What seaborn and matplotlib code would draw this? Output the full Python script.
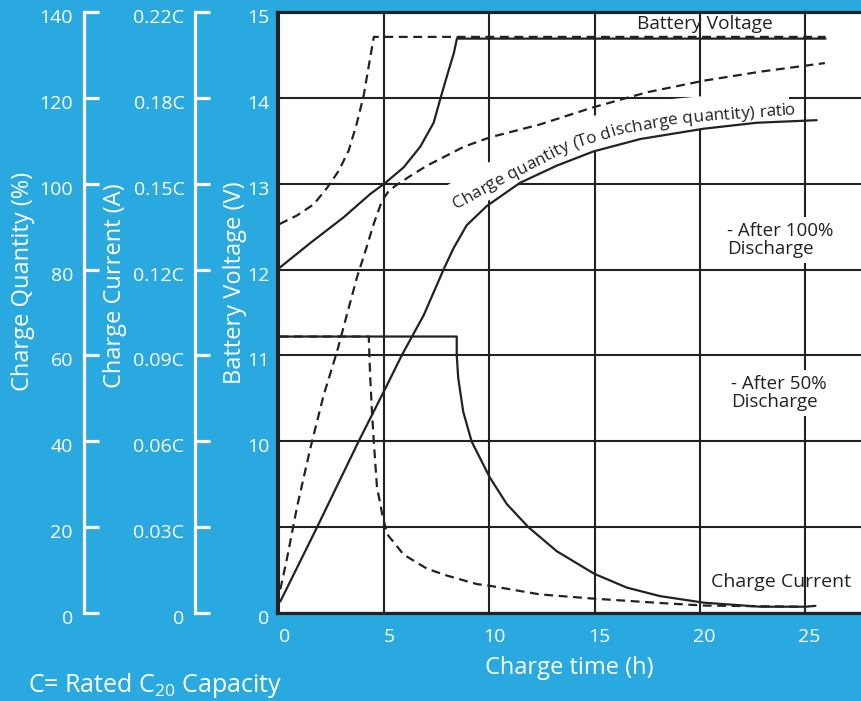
import numpy as np
import pandas as pd
import seaborn as sns
import matplotlib
matplotlib.use("Agg")
import matplotlib.pyplot as plt
from matplotlib.font_manager import FontProperties
from matplotlib.transforms import ScaledTranslation

BLUE = "#29a9e0"
INK = "#222222"
W, H = 862, 701

# axis ticks / labels
time_ticks = [0, 5, 10, 15, 20, 25]
level_ticks = [0, 20, 40, 60, 80, 100, 120, 140]
quantity_labels = ["0", "20", "40", "60", "80", "100", "120", "140"]
current_labels = ["0", "0.03C", "0.06C", "0.09C", "0.12C", "0.15C", "0.18C", "0.22C"]
voltage_labels = ["0", "", "10", "11", "12", "13", "14", "15"]

# battery voltage (V)
volt_t_100 = [0.0, 1.47, 3.06, 4.32, 5.04, 5.91, 6.70, 7.34, 7.66, 7.98, 8.30, 8.45, 26.0]
volt_100 = [12.02, 12.31, 12.61, 12.88, 13.01, 13.19, 13.43, 13.71, 13.99, 14.26, 14.52, 14.69, 14.69]
volt_t_50 = [0.0, 0.83, 1.63, 2.26, 2.82, 3.30, 3.69, 4.01, 4.25, 4.49, 26.0]
volt_50 = [12.53, 12.63, 12.76, 12.95, 13.15, 13.39, 13.71, 14.03, 14.37, 14.71, 14.71]

# charge quantity (%)
qty_t_100 = [0.04, 1.79, 3.77, 5.04, 5.83, 6.87, 7.82, 8.28, 8.91, 9.87, 11.45, 13.2, 14.94, 17.17,
             20.18, 22.72, 25.58]
qty_100 = [2.7, 20.0, 40.0, 52.3, 60.1, 69.4, 80.1, 84.9, 90.3, 94.8, 100.2, 104.2, 107.5, 110.4,
           112.8, 114.2, 114.8]
qty_t_50 = [0.04, 0.36, 0.83, 1.47, 2.10, 2.74, 3.21, 3.69, 4.09, 4.49, 4.88, 5.20, 5.60, 6.23, 7.02,
            7.82, 8.77, 10.02, 12.4, 14.94, 17.5, 20.21, 22.9, 25.97]
qty_50 = [5.5, 12.8, 24.6, 38.4, 50.7, 60.9, 69.5, 78.2, 84.3, 90.7, 96.0, 98.3, 99.8, 101.8, 104.2,
          106.2, 108.6, 110.8, 113.8, 117.8, 121.3, 124.0, 126.1, 128.1]

# charge current (xC)
cur_t_100 = [0.0, 8.44, 8.44, 8.51, 8.75, 9.15, 10.02, 10.82, 11.85, 13.2, 14.99, 16.53, 18.12, 20.21,
             22.9, 25.07, 25.52]
cur_100 = [0.0966, 0.0966, 0.0901, 0.0821, 0.0703, 0.0599, 0.0473, 0.0381, 0.030, 0.0216, 0.0137,
           0.0089, 0.0059, 0.0036, 0.0022, 0.0022, 0.0025]
cur_t_50 = [0.0, 4.25, 4.32, 4.40, 4.49, 4.64, 4.88, 5.12, 5.91, 7.02, 7.96, 9.40, 10.02, 12.4, 14.99,
            18.12, 20.21, 24.7]
cur_50 = [0.0966, 0.0966, 0.0823, 0.0708, 0.060, 0.0441, 0.035, 0.0276, 0.0204, 0.0155, 0.0131, 0.0101,
          0.0095, 0.0065, 0.0050, 0.0035, 0.0026, 0.0022]


# everything is drawn on the charge-quantity scale (0-140)
def volt_to_level(v):
    return (np.asarray(v) - 8) * 20


def cur_to_level(c):
    return np.asarray(c) / 0.03 * 20


frames = []
for name, t, y, kind in [
    ("volt100", volt_t_100, volt_to_level(volt_100), "100%"),
    ("volt50", volt_t_50, volt_to_level(volt_50), "50%"),
    ("qty100", qty_t_100, np.asarray(qty_100), "100%"),
    ("qty50", qty_t_50, np.asarray(qty_50), "50%"),
    ("cur100", cur_t_100, cur_to_level(cur_100), "100%"),
    ("cur50", cur_t_50, cur_to_level(cur_50), "50%"),
]:
    frames.append(pd.DataFrame({"time": t, "level": y, "curve": name, "discharge": kind}))
df = pd.concat(frames, ignore_index=True)

sns.set_theme(style="white")
plt.rcParams["font.family"] = ["Open Sans", "DejaVu Sans"]
plt.rcParams["mathtext.fontset"] = "custom"
plt.rcParams["mathtext.rm"] = "Open Sans"
plt.rcParams["mathtext.it"] = "Open Sans:italic"


def box(left, right, top, bottom):
    return [left / W, 1 - bottom / H, (right - left) / W, (bottom - top) / H]


fig = plt.figure(figsize=(W / 100, H / 100), dpi=100, facecolor=BLUE)
ax = fig.add_axes(box(277, 862, 12, 613))
ax.set_facecolor("white")
x0 = 279.5
ax.set_xlim((277 - x0) / 21.0, (862 - x0) / 21.0)
ax.set_ylim(0, 140)

sns.lineplot(data=df, x="time", y="level", units="curve", style="discharge",
             dashes={"100%": "", "50%": (4, 2.5)}, estimator=None, sort=False,
             color=INK, lw=1.6, legend=False, ax=ax, zorder=3)

ax.set_axisbelow(True)
ax.grid(True, color=INK, lw=1.5)
for s in ["left", "top", "bottom"]:
    ax.spines[s].set_color(INK)
    ax.spines[s].set_linewidth(2.3)
ax.spines["right"].set_visible(False)

ax.set_xticks(time_ticks, [str(t) for t in time_ticks])
ax.set_yticks(level_ticks, voltage_labels)
ax.tick_params(axis="x", length=0, pad=11, labelsize=14, labelcolor="white")
ax.tick_params(axis="y", length=0, pad=5.5, labelsize=14, labelcolor="white")
ax.set_xlabel("")
ax.set_ylabel("")
for lbl in ax.get_xticklabels():
    lbl.set_transform(lbl.get_transform() + ScaledTranslation(0.05, 0, fig.dpi_scale_trans))
for lbl in ax.get_yticklabels():
    lbl.set_transform(lbl.get_transform() + ScaledTranslation(0, -0.04, fig.dpi_scale_trans))

# the two extra white scales on the left
for xpx, labels in [(84, quantity_labels), (195.5, current_labels)]:
    sa = fig.add_axes(box(xpx, xpx + 1, 12, 613))
    sa.patch.set_visible(False)
    for s in ["top", "right", "bottom"]:
        sa.spines[s].set_visible(False)
    sa.spines["left"].set_color("white")
    sa.spines["left"].set_linewidth(2.3)
    sa.set_ylim(0, 140)
    sa.set_xticks([])
    sa.set_yticks(level_ticks, labels)
    sa.tick_params(axis="y", left=True, direction="in", length=10.5, width=2.3, color="white",
                   labelcolor="white", labelsize=14, pad=8)
    for lbl in sa.get_yticklabels():
        lbl.set_transform(lbl.get_transform() + ScaledTranslation(0, -0.04, fig.dpi_scale_trans))

# axis titles
fig.text(23 / W, 1 - 281 / H, "Charge Quantity (%)", rotation=90, ha="center", va="center",
         color="white", size=17)
fig.text(115 / W, 1 - 286 / H, "Charge Current (A)", rotation=90, ha="center", va="center",
         color="white", size=17)
fig.text(235 / W, 1 - 283 / H, "Battery Voltage (V)", rotation=90, ha="center", va="center",
         color="white", size=17)
fig.text(569 / W, 1 - 668 / H, "Charge time (h)", ha="center", va="center", color="white", size=17)
fig.text(28 / W, 1 - 692 / H, r"C= Rated C$_{20}$ Capacity", ha="left", va="baseline",
         color="white", size=18)

# annotations inside the plot
white_box = dict(boxstyle="square,pad=0.25", fc="white", ec="none")
fig.text(704.5 / W, 1 - 24 / H, "Battery Voltage", ha="center", va="center", color=INK, size=13.8)
fig.text(727 / W, 1 - 240 / H, "- After 100%\nDischarge", ha="left", va="center", color=INK,
         size=13.5, linespacing=1.05, bbox=white_box, zorder=2)
fig.text(731.5 / W, 1 - 393 / H, "- After 50%\nDischarge", ha="left", va="center", color=INK,
         size=13.5, linespacing=1.05, bbox=white_box, zorder=2)
fig.text(711 / W, 1 - 582 / H, "Charge Current", ha="left", va="center", color=INK, size=14)

# text bent along the charge quantity curve
base_px = np.array([[456, 209], [507, 181], [566, 151], [620, 134], [674, 124], [741, 118], [790, 115]],
                   dtype=float)
base_disp = np.column_stack([base_px[:, 0], H - base_px[:, 1]])
seg = np.hypot(*np.diff(base_disp, axis=0).T)
cum = np.concatenate([[0], np.cumsum(seg)])


def along(s):
    px = np.interp(s, cum, base_disp[:, 0])
    py = np.interp(s, cum, base_disp[:, 1])
    i = np.clip(np.searchsorted(cum, s) - 1, 0, len(seg) - 1)
    d = base_disp[i + 1] - base_disp[i]
    return px, py, np.arctan2(d[1], d[0])


inv = ax.transData.inverted()
ribbon = []
for s in np.linspace(-8, cum[-1] + 10, 120):
    px, py, a = along(s)
    ribbon.append((px - 8.5 * np.sin(a), py + 8.5 * np.cos(a)))
ribbon = inv.transform(np.array(ribbon))
ax.plot(ribbon[:, 0], ribbon[:, 1], color="white", lw=24, solid_capstyle="butt", zorder=1.5)

label = "Charge quantity (To discharge quantity) ratio"
renderer = fig.canvas.get_renderer()
fp = FontProperties(family="Open Sans", size=12.4)


def tw(s):
    return renderer.get_text_width_height_descent(s + "l", fp, ismath=False)[0] - \
        renderer.get_text_width_height_descent("l", fp, ismath=False)[0]


for i, ch in enumerate(label):
    if ch == " ":
        continue
    s_mid = (tw(label[:i]) + tw(label[:i + 1])) / 2
    px, py, a = along(s_mid)
    xd, yd = inv.transform((px, py))
    ax.text(xd, yd, ch, fontproperties=fp, color=INK, rotation=np.degrees(a),
            rotation_mode="anchor", ha="center", va="baseline", zorder=2)

fig.savefig("out.png", dpi=100, facecolor=BLUE)
